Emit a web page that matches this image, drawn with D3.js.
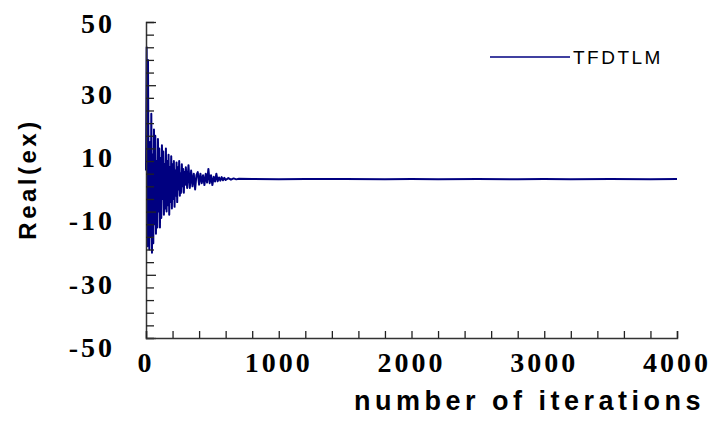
<!DOCTYPE html>
<html>
<head>
<meta charset="utf-8">
<script src="https://cdn.jsdelivr.net/npm/d3@7"></script>
<style>
  body { margin: 0; background: #fff; }
  text { fill: #000; }
</style>
</head>
<body>
<div id="container"></div>
<script>
// data
const iterations = [0, 5, 10, 15, 20, 25, 30, 35, 40, 45, 50, 55, 60, 65, 70, 75, 80, 85, 90, 95,
  100, 105, 110, 115, 120, 125, 130, 135, 140, 145, 150, 155, 160, 165, 170, 175, 180, 185, 190, 195,
  200, 205, 210, 215, 220, 225, 230, 235, 240, 245, 250, 255, 260, 265, 270, 275, 280, 285, 290, 295,
  300, 310, 320, 330, 340, 350, 360, 370, 380, 390, 400, 410, 420, 430, 440, 450, 460, 470, 480, 490,
  500, 510, 520, 530, 540, 550, 560, 570, 580, 590, 600, 620, 640, 660, 680, 700, 800, 1000, 1200,
  1500, 1800, 2000, 2200, 2500, 2800, 3000, 3200, 3500, 3800, 4000];
const realEx = [3, 42, -21, 38, -8, -22, 12, -18, 21, -23, 8, -20, 16, -14, 14, -17, 6, -15, 13, -10,
  10, -15, 7, -12, 11, -6, 9, -11, 5, -9, 10, -10, 6, -8, 8, -11, 4, -7, 7.5, -9,
  5, -6, 6, -8.5, 3, -5, 5.5, -7, 4, -3, 6, -5, 2, -4, 5, -2, 3.5, -4, 2.5, -1.5,
  4, -2.5, 4.7, -2.5, 3, -2, 2, -3, 1.5, 2.5, -1.5, 2, -1, 1.5, -1.6, 2, -0.8, 3.5, -1, 1.5,
  -1.6, 1, -0.5, 2, -0.4, 0.8, -0.2, 0.9, -0.1, 0.7, 0, 0.6, 0.1, 0.5, 0.2, 0.4, 0.3, 0.25, 0.3,
  0.3, 0.25, 0.3, 0.25, 0.3, 0.2, 0.3, 0.25, 0.3, 0.25, 0.3];
const seriesName = "TFDTLM";
const xTickLabels = [0, 1000, 2000, 3000, 4000];
const yTickLabels = [50, 30, 10, -10, -30, -50];

const width = 716;
const height = 446;

const x = d3.scaleLinear().domain([0, 4000]).range([146, 677]);
const y = d3.scaleLinear().domain([-50, 50]).range([338, 22]);

const svg = d3.select("#container")
  .append("svg")
  .attr("width", width)
  .attr("height", height);

// the signal
const data = iterations.map((it, i) => ({ it, v: realEx[i] }));
svg.append("path")
  .datum(data)
  .attr("fill", "none")
  .attr("stroke", "#000080")
  .attr("stroke-width", 2)
  .attr("stroke-linejoin", "round")
  .attr("d", d3.line().x(d => x(d.it)).y(d => y(d.v)));

// y axis, ticks every 4 pointing inward
const yAxis = svg.append("g")
  .attr("transform", `translate(${x(0)},0)`)
  .call(d3.axisRight(y).tickValues(d3.range(-50, 51, 4)).tickSize(8).tickFormat(""));
yAxis.selectAll(".tick line")
  .attr("x2", d => ((d + 50) % 20 === 0 ? 10 : 8));

// x axis, ticks every 200 pointing up
const xAxis = svg.append("g")
  .attr("transform", `translate(0,${y(-50)})`)
  .call(d3.axisTop(x).tickValues(d3.range(0, 4001, 200)).tickSize(7).tickFormat(""));

svg.selectAll(".domain").attr("stroke", "#333").attr("stroke-width", 1.5);
svg.selectAll(".tick line").attr("stroke", "#222").attr("stroke-width", 1.3);

// tick labels
svg.append("g")
  .selectAll("text")
  .data(yTickLabels)
  .join("text")
  .attr("x", 115)
  .attr("y", d => (d === 50 ? y(d) + 1 : y(d) + 9))
  .attr("dy", "0.35em")
  .attr("text-anchor", "end")
  .style("font", "bold 28px 'Liberation Serif', 'Times New Roman', serif")
  .style("letter-spacing", "3px")
  .text(d => d);

svg.append("g")
  .selectAll("text")
  .data(xTickLabels)
  .join("text")
  .attr("x", d => x(d))
  .attr("y", 362)
  .attr("dy", "0.35em")
  .attr("text-anchor", "middle")
  .style("font", "bold 28px 'Liberation Serif', 'Times New Roman', serif")
  .style("letter-spacing", "3px")
  .text(d => d);

// axis titles
svg.append("text")
  .attr("x", 705)
  .attr("y", 410)
  .attr("text-anchor", "end")
  .style("font", "bold 27px 'Liberation Sans', Arial, sans-serif")
  .style("letter-spacing", "4.5px")
  .text("number of iterations");

svg.append("text")
  .attr("transform", "translate(36,179) rotate(-90)")
  .attr("text-anchor", "middle")
  .style("font", "bold 24px 'Liberation Sans', Arial, sans-serif")
  .style("letter-spacing", "3.5px")
  .text("Real(ex)");

// legend
const legend = svg.append("g").attr("transform", "translate(490,57)");
legend.append("line")
  .attr("x1", 0).attr("x2", 80)
  .attr("stroke", "#000080")
  .attr("stroke-width", 1.5);
legend.append("text")
  .attr("x", 83)
  .attr("y", 7)
  .style("font", "19px 'Liberation Sans', Arial, sans-serif")
  .style("letter-spacing", "2.5px")
  .text(seriesName);
</script>
</body>
</html>
